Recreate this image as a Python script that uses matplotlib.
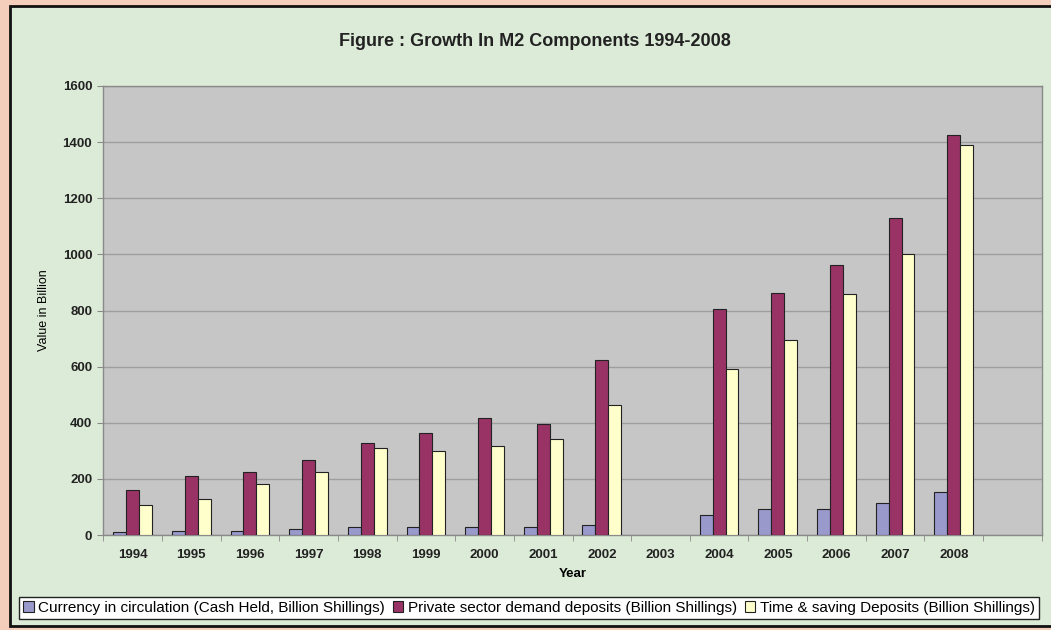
import numpy as np
import matplotlib
matplotlib.use("Agg")
import matplotlib.pyplot as plt
from matplotlib.patches import Rectangle

years = ["1994", "1995", "1996", "1997", "1998", "1999", "2000", "2001",
         "2002", "2003", "2004", "2005", "2006", "2007", "2008", ""]
cash = [10, 14, 14, 21, 30, 30, 30, 30, 37, np.nan, 71, 91, 91, 113, 155, np.nan]
private = [159, 209, 223, 266, 328, 364, 416, 395, 622, np.nan, 807, 861, 963, 1130, 1427, np.nan]
timedep = [108, 129, 180, 223, 310, 299, 316, 343, 462, np.nan, 591, 694, 858, 1003, 1390, np.nan]

series_names = ["Currency in circulation (Cash Held, Billion Shillings)",
                "Private sector demand deposits (Billion Shillings)",
                "Time & saving Deposits (Billion Shillings)"]
colors = ["#9999CC", "#993366", "#FFFFCC"]

plt.rcParams['font.family'] = ['Liberation Sans', 'DejaVu Sans']

fig = plt.figure(figsize=(10.51, 6.30), dpi=100)
fig.patch.set_facecolor("#F4CDBB")
# green chart area
bg = Rectangle((10/1051, 4/630), 1.0, 620/630, transform=fig.transFigure,
               facecolor="#DCEBD7", edgecolor="#111111", linewidth=2.0, zorder=-5)
fig.add_artist(bg)

ax = fig.add_axes([103.3/1051, 95/630, (1041.7-103.3)/1051, (535-86)/630])
ax.set_facecolor("#C6C6C6")

x = np.arange(len(years))
w = 0.22
for i, (vals, c, name) in enumerate(zip([cash, private, timedep], colors, series_names)):
    v = np.array(vals, dtype=float)
    m = ~np.isnan(v)
    ax.bar(x[m] + (i - 1) * w, v[m], width=w, color=c, edgecolor="#222222",
           linewidth=0.8, label=name, zorder=3)

ax.set_xlim(-0.5, len(years) - 0.5)
ax.set_ylim(0, 1600)
ax.set_yticks(np.arange(0, 1601, 200))
ax.yaxis.grid(True, color="#9E9E9E", linewidth=1.0, zorder=1)
ax.set_axisbelow(True)

ax.set_xticks(x)
ax.set_xticklabels(years, fontsize=9.5, fontweight="bold", color="#222222")
ax.set_xticks(np.arange(-0.5, len(years)), minor=True)
ax.tick_params(axis="x", which="major", length=0, pad=10)
ax.tick_params(axis="x", which="minor", length=4, color="#888888")
ax.tick_params(axis="y", length=4, color="#888888", labelsize=9.5, pad=4)
for lab in ax.get_yticklabels():
    lab.set_fontweight("bold")
    lab.set_color("#222222")

for s in ax.spines.values():
    s.set_color("#8A8A8A")
    s.set_linewidth(1.0)

ax.set_xlabel("Year", fontsize=9.5, fontweight="bold", labelpad=5)
ax.set_ylabel("Value in Billion", fontsize=9, labelpad=9)

fig.text(535/1051, 1 - 41/630, "Figure : Growth In M2 Components 1994-2008",
         ha="center", va="center", fontsize=13, fontweight="bold", color="#222222")

leg = fig.legend(loc="center", bbox_to_anchor=(529/1051, 1 - 608/630), ncol=3,
                 fontsize=11, frameon=True, fancybox=False, framealpha=1,
                 edgecolor="#222222", handlelength=0.7, handleheight=0.7,
                 handletextpad=0.3, columnspacing=0.5, borderpad=0.25)
leg.get_frame().set_linewidth(1.0)

fig.savefig("out.png", dpi=100, facecolor=fig.get_facecolor())
